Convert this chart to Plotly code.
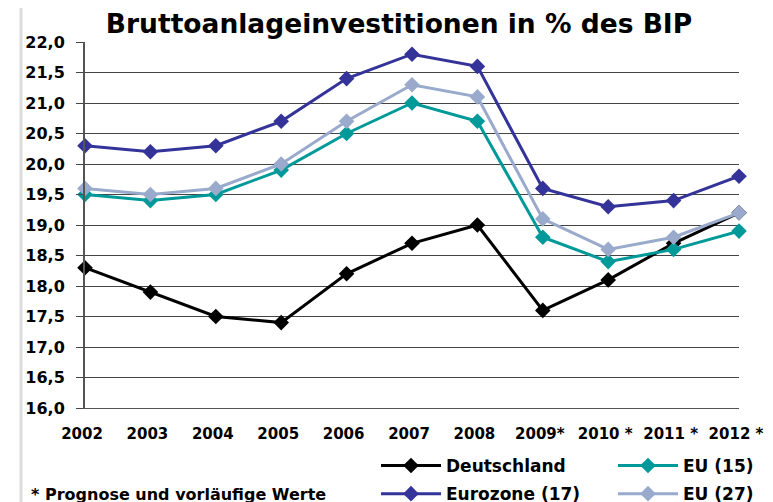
import plotly.graph_objects as go

years = [2002, 2003, 2004, 2005, 2006, 2007, 2008, 2009, 2010, 2011, 2012]
year_labels = ["2002", "2003", "2004", "2005", "2006", "2007", "2008",
               "2009*", "2010 *", "2011 *", "2012 *"]

deutschland = [18.3, 17.9, 17.5, 17.4, 18.2, 18.7, 19.0, 17.6, 18.1, 18.7, 19.2]
eurozone17 = [20.3, 20.2, 20.3, 20.7, 21.4, 21.8, 21.6, 19.6, 19.3, 19.4, 19.8]
eu15 = [19.5, 19.4, 19.5, 19.9, 20.5, 21.0, 20.7, 18.8, 18.4, 18.6, 18.9]
eu27 = [19.6, 19.5, 19.6, 20.0, 20.7, 21.3, 21.1, 19.1, 18.6, 18.8, 19.2]

# name, values, colour, legend id, rank
series = [
    ("Deutschland", deutschland, "#000000", "legend", 1),
    ("Eurozone (17)", eurozone17, "#333399", "legend", 2),
    ("EU (15)", eu15, "#009999", "legend2", 1),
    ("EU (27)", eu27, "#99AACC", "legend2", 2),
]

FONT = "DejaVu Sans"
OFF = 8  # page body margin offset
W, H = 773 - OFF, 502 - OFF
L = 85 - OFF
R = 773 - 739
T = 41.5 - OFF
B = 502 - 408.5
pw = W - L - R
ph = H - T - B

fig = go.Figure()
for name, vals, color, leg, rank in series:
    fig.add_trace(go.Scatter(
        x=years, y=vals, name=name, mode="lines+markers",
        line=dict(color=color, width=3),
        marker=dict(symbol="diamond", size=12, color=color),
        cliponaxis=False, legend=leg, legendrank=rank, legendgroup=name,
    ))

def px_x(p):
    return (p - OFF - L) / pw

def px_y(p):
    return (H - B - (p - OFF)) / ph

legend_common = dict(
    orientation="v", xref="container", yref="container",
    xanchor="left", yanchor="top", bgcolor="rgba(0,0,0,0)",
    font=dict(family=FONT, size=17, weight="bold", color="black"),
    itemwidth=60, tracegroupgap=3, traceorder="grouped",
)

fig.update_layout(
    width=W, height=H,
    margin=dict(l=L, r=R, t=T, b=B, autoexpand=False),
    paper_bgcolor="white", plot_bgcolor="white",
    separators=",.",
    font=dict(family=FONT, size=15, color="black", weight="bold"),
    title=dict(text="Bruttoanlageinvestitionen in % des BIP",
               x=(399 - OFF) / W, xanchor="center", xref="container",
               y=1 - (24 - OFF) / H, yanchor="middle", yref="container",
               font=dict(family=FONT, size=26.5, weight="bold", color="black")),
    xaxis=dict(range=[2002, 2012], tickmode="array", tickvals=years,
               ticktext=year_labels, showgrid=False, zeroline=False,
               showline=True, linecolor="#555555", linewidth=1,
               ticks="", ticklabelshift=-3, ticklabelstandoff=12,
               tickfont=dict(family=FONT, size=15, weight="bold")),
    yaxis=dict(range=[16, 22], dtick=0.5, tickformat=".1f",
               showgrid=True, gridcolor="#444444", gridwidth=1,
               zeroline=False, showline=True, linecolor="#555555", linewidth=2,
               ticks="outside", ticklen=7, tickcolor="#444444",
               ticklabelstandoff=8,
               tickfont=dict(family=FONT, size=16, weight="bold")),
    legend=dict(x=(376 - OFF) / W, y=1 - (448 - OFF) / H, **legend_common),
    legend2=dict(x=(613 - OFF) / W, y=1 - (448 - OFF) / H, **legend_common),
    showlegend=True,
)

fig.add_annotation(text="* Prognose und vorläufige Werte", xref="paper", yref="paper",
                   x=px_x(29), xanchor="left", y=px_y(495), yanchor="middle",
                   showarrow=False,
                   font=dict(family=FONT, size=16, weight="bold", color="black"))

for xpos in (21, 768):
    fig.add_shape(type="line", xref="paper", yref="paper",
                  x0=px_x(xpos), x1=px_x(xpos), y0=px_y(510), y1=px_y(-5),
                  line=dict(color="#dddddd", width=3), layer="below")

fig.write_html("out.html")
